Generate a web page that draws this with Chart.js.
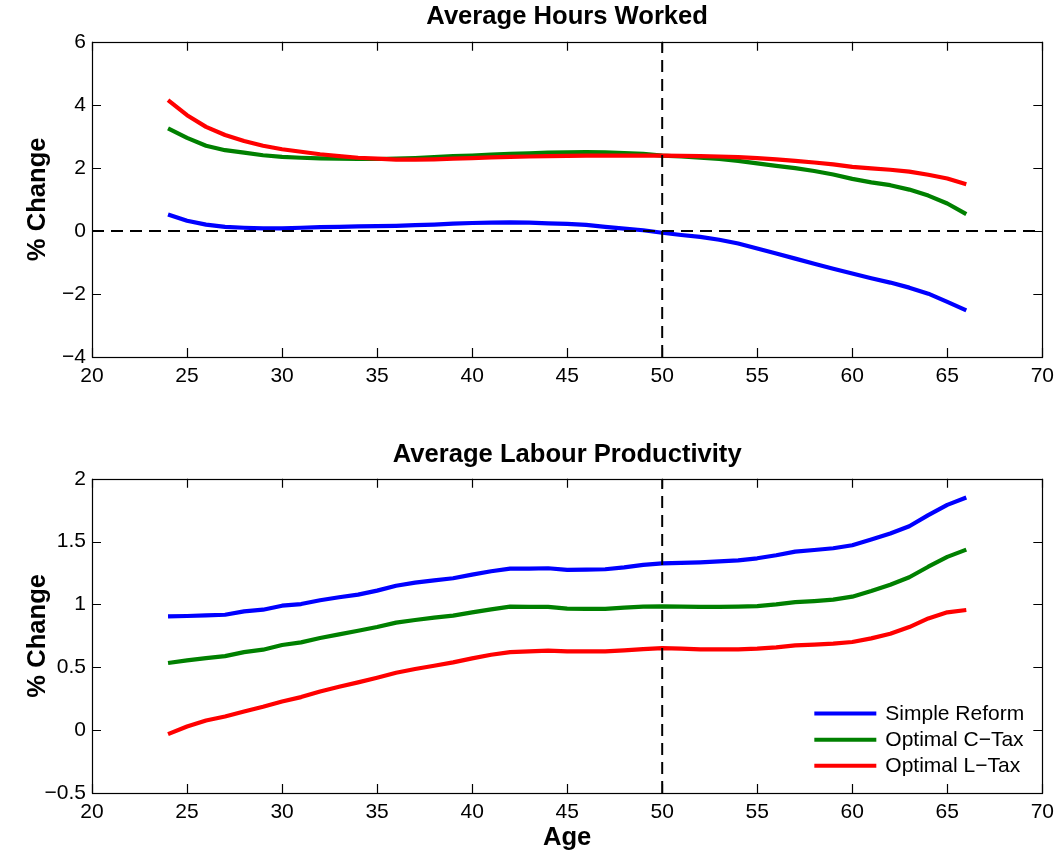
<!DOCTYPE html>
<html>
<head>
<meta charset="utf-8">
<script src="https://cdn.jsdelivr.net/npm/chart.js@4.4.1/dist/chart.umd.min.js"></script>
<style>
  html, body { margin: 0; padding: 0; background: #fff; }
  #wrap { position: relative; width: 1061px; height: 855px; }
  canvas { position: absolute; left: 0; }
  #hours { top: 0; }
  #prod { top: 420px; }
</style>
</head>
<body>
<div id="wrap">
  <canvas id="hours" width="1061" height="420"></canvas>
  <canvas id="prod" width="1061" height="435"></canvas>
</div>
<script>
// Age of the household head
const ages = [24, 25, 26, 27, 28, 29, 30, 31, 32, 33, 34, 35, 36, 37, 38, 39, 40, 41, 42, 43, 44, 45,
              46, 47, 48, 49, 50, 51, 52, 53, 54, 55, 56, 57, 58, 59, 60, 61, 62, 63, 64, 65, 66];

// Average hours worked, % change
const hoursSimple = [0.52, 0.32, 0.20, 0.13, 0.10, 0.08, 0.08, 0.10, 0.12, 0.13, 0.14, 0.15, 0.16, 0.18, 0.20,
                     0.23, 0.25, 0.26, 0.27, 0.26, 0.24, 0.22, 0.19, 0.13, 0.07, 0.02, -0.06, -0.13, -0.19,
                     -0.28, -0.40, -0.56, -0.72, -0.88, -1.04, -1.20, -1.35, -1.50, -1.64, -1.80, -1.99,
                     -2.25, -2.52];
const hoursCTax = [3.25, 2.95, 2.70, 2.56, 2.48, 2.40, 2.35, 2.32, 2.30, 2.29, 2.28, 2.28, 2.29, 2.31, 2.34,
                   2.37, 2.39, 2.42, 2.44, 2.46, 2.48, 2.49, 2.50, 2.49, 2.47, 2.44, 2.39, 2.36, 2.32, 2.28,
                   2.22, 2.14, 2.06, 1.99, 1.90, 1.79, 1.65, 1.54, 1.45, 1.31, 1.12, 0.87, 0.53];
const hoursLTax = [4.15, 3.67, 3.30, 3.04, 2.85, 2.70, 2.59, 2.51, 2.43, 2.37, 2.32, 2.29, 2.26, 2.26, 2.27,
                   2.29, 2.31, 2.33, 2.35, 2.36, 2.37, 2.38, 2.39, 2.39, 2.39, 2.39, 2.39, 2.38, 2.37, 2.36,
                   2.34, 2.31, 2.27, 2.22, 2.17, 2.11, 2.03, 1.98, 1.94, 1.88, 1.78, 1.66, 1.48];

// Average labour productivity, % change
const prodSimple = [0.905, 0.908, 0.913, 0.918, 0.945, 0.958, 0.990, 1.003, 1.033, 1.057, 1.078, 1.110, 1.149,
                    1.173, 1.192, 1.208, 1.237, 1.264, 1.285, 1.285, 1.288, 1.275, 1.277, 1.280, 1.295, 1.314,
                    1.327, 1.330, 1.335, 1.343, 1.351, 1.367, 1.391, 1.420, 1.433, 1.447, 1.471, 1.516, 1.564,
                    1.622, 1.710, 1.792, 1.850];
const prodCTax = [0.534, 0.555, 0.573, 0.589, 0.621, 0.640, 0.677, 0.698, 0.733, 0.762, 0.791, 0.820, 0.855,
                  0.876, 0.895, 0.911, 0.937, 0.961, 0.982, 0.980, 0.980, 0.966, 0.964, 0.964, 0.974, 0.982,
                  0.985, 0.982, 0.980, 0.980, 0.982, 0.987, 1.000, 1.019, 1.027, 1.038, 1.062, 1.107, 1.157,
                  1.216, 1.300, 1.378, 1.436];
const prodLTax = [-0.032, 0.029, 0.077, 0.109, 0.149, 0.186, 0.228, 0.263, 0.308, 0.345, 0.380, 0.417, 0.457,
                  0.486, 0.512, 0.539, 0.571, 0.600, 0.621, 0.626, 0.632, 0.626, 0.626, 0.626, 0.634, 0.645,
                  0.653, 0.648, 0.642, 0.642, 0.642, 0.648, 0.658, 0.674, 0.680, 0.688, 0.701, 0.730, 0.767,
                  0.820, 0.889, 0.937, 0.956];

const seriesNames = ['Simple Reform', 'Optimal C\u2212Tax', 'Optimal L\u2212Tax'];
const seriesColors = ['#0000ff', '#008000', '#ff0000'];

// Axis ranges and tick steps
const ageTicks = { min: 20, max: 70, step: 5 };
const hoursTicks = { min: -4, max: 6, step: 2 };
const prodTicks = { min: -0.5, max: 2, step: 0.5 };
const cutoffAge = 50;

const FONT = '"Liberation Sans", Arial, Helvetica, sans-serif';
Chart.defaults.font.family = FONT;
Chart.defaults.color = '#000';

const toPoints = (xs, ys) => xs.map((x, i) => ({ x: x, y: ys[i] }));
const fmt = v => String(v).replace('-', '\u2212');

// Box around the plot area with inward tick marks on all four sides
const frameTicks = {
  id: 'frameTicks',
  afterDatasetsDraw(chart) {
    const { ctx, chartArea: a, scales } = chart;
    const len = 9;
    ctx.save();
    ctx.strokeStyle = '#000';
    ctx.lineWidth = 1.2;
    ctx.beginPath();
    scales.x.ticks.forEach(t => {
      const px = Math.round(scales.x.getPixelForValue(t.value)) + 0.5;
      ctx.moveTo(px, a.bottom); ctx.lineTo(px, a.bottom - len);
      ctx.moveTo(px, a.top); ctx.lineTo(px, a.top + len);
    });
    scales.y.ticks.forEach(t => {
      const py = Math.round(scales.y.getPixelForValue(t.value)) + 0.5;
      ctx.moveTo(a.left, py); ctx.lineTo(a.left + len, py);
      ctx.moveTo(a.right, py); ctx.lineTo(a.right - len, py);
    });
    ctx.stroke();
    ctx.strokeRect(Math.round(a.left) + 0.5, Math.round(a.top) + 0.5,
                   Math.round(a.width), Math.round(a.height));
    ctx.restore();
  }
};

// Legend drawn inside the lower-right corner of the plot area
const innerLegend = {
  id: 'innerLegend',
  afterDraw(chart, args, opts) {
    if (!opts.show) return;
    const { ctx, chartArea: a } = chart;
    ctx.save();
    ctx.font = '21px ' + FONT;
    ctx.textBaseline = 'middle';
    ctx.textAlign = 'left';
    const rows = [a.bottom - 79.5, a.bottom - 53.3, a.bottom - 27.3];
    seriesNames.forEach((name, i) => {
      ctx.strokeStyle = seriesColors[i];
      ctx.lineWidth = 4;
      ctx.beginPath();
      ctx.moveTo(a.right - 228, rows[i]);
      ctx.lineTo(a.right - 166, rows[i]);
      ctx.stroke();
      ctx.fillStyle = '#000';
      ctx.fillText(name, a.right - 157, rows[i] + 1);
    });
    ctx.restore();
  }
};

function seriesDataset(i, values) {
  return {
    label: seriesNames[i],
    data: toPoints(ages, values),
    borderColor: seriesColors[i],
    borderWidth: 4.2,
    pointRadius: 0,
    tension: 0,
    borderJoinStyle: 'round',
    order: 3 - i
  };
}

function refLine(points) {
  return {
    label: '',
    data: points,
    borderColor: '#000',
    borderWidth: 2,
    borderDash: [12, 7],
    pointRadius: 0,
    order: 0
  };
}

function buildChart(id, cfg) {
  const yr = cfg.yRange;
  const refs = [refLine([{ x: cutoffAge, y: yr.min }, { x: cutoffAge, y: yr.max }])];
  if (cfg.zeroLine) refs.push(refLine([{ x: ageTicks.min, y: 0 }, { x: ageTicks.max, y: 0 }]));
  return new Chart(document.getElementById(id), {
    type: 'line',
    data: {
      datasets: [
        seriesDataset(0, cfg.values[0]),
        seriesDataset(1, cfg.values[1]),
        seriesDataset(2, cfg.values[2])
      ].concat(refs)
    },
    options: {
      responsive: false,
      animation: false,
      events: [],
      layout: { padding: { left: 0, right: 17, top: 0, bottom: 0 } },
      plugins: {
        legend: { display: false },
        tooltip: { enabled: false },
        title: {
          display: true,
          text: cfg.title,
          fullSize: false,
          color: '#000',
          font: { size: 25.6, weight: 'bold', lineHeight: 1.2 },
          padding: cfg.titlePad
        },
        innerLegend: { show: !!cfg.legend }
      },
      scales: {
        x: {
          type: 'linear',
          min: ageTicks.min,
          max: ageTicks.max,
          grid: { display: false, drawTicks: false, tickLength: 0 },
          border: { display: false },
          ticks: {
            stepSize: ageTicks.step,
            autoSkip: false,
            maxRotation: 0,
            padding: 7,
            color: '#000',
            font: { size: 21 },
            callback: fmt
          },
          title: {
            display: !!cfg.xTitle,
            text: cfg.xTitle || '',
            color: '#000',
            font: { size: 25.6, weight: 'bold', lineHeight: 1.2 },
            padding: { top: 0, bottom: 2 }
          },
          afterFit: s => { s.height = cfg.xHeight; }
        },
        y: {
          type: 'linear',
          min: yr.min,
          max: yr.max,
          grid: { display: false, drawTicks: false, tickLength: 0 },
          border: { display: false },
          ticks: {
            stepSize: yr.step,
            autoSkip: false,
            padding: 6,
            color: '#000',
            font: { size: 21 },
            callback: fmt
          },
          title: {
            display: true,
            text: '% Change',
            color: '#000',
            font: { size: 25.6, weight: 'bold', lineHeight: 1.2 },
            padding: { top: 23, bottom: 0 }
          },
          afterFit: s => { s.width = 92; }
        }
      }
    },
    plugins: [frameTicks, innerLegend]
  });
}

buildChart('hours', {
  title: 'Average Hours Worked',
  titlePad: { top: 2, bottom: 9 },
  values: [hoursSimple, hoursCTax, hoursLTax],
  yRange: hoursTicks,
  zeroLine: true,
  xHeight: 63,
  legend: false
});

buildChart('prod', {
  title: 'Average Labour Productivity',
  titlePad: { top: 20, bottom: 8 },
  values: [prodSimple, prodCTax, prodLTax],
  yRange: prodTicks,
  zeroLine: false,
  xHeight: 62,
  xTitle: 'Age',
  legend: true
});
</script>
</body>
</html>
